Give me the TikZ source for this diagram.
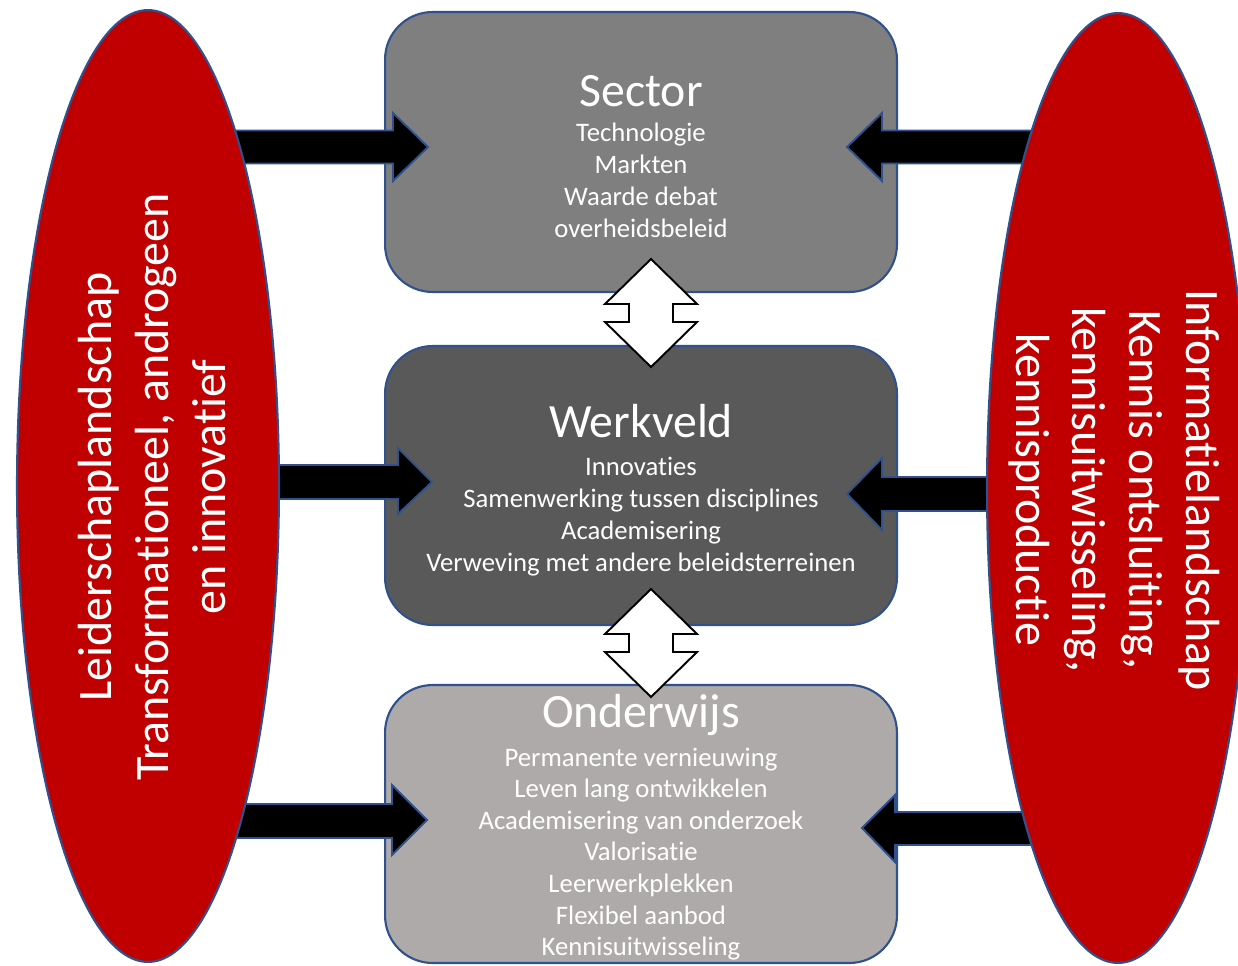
\documentclass[tikz,border=0pt]{standalone}
\usepackage{fontspec}
\setmainfont{Carlito}[Ligatures=NoCommon]
\usetikzlibrary{shapes.geometric}
\definecolor{outl}{HTML}{2F528F}
\definecolor{dred}{HTML}{C00000}
\definecolor{gA}{HTML}{7F7F7F}
\definecolor{gB}{HTML}{595959}
\definecolor{gC}{HTML}{AEAAAA}
\begin{document}
\begin{tikzpicture}[x=0.02cm,y=-0.02cm,
  box/.style={draw=outl,line width=1.2pt,rounded corners=0.95cm,inner sep=0pt,outer sep=0pt,minimum width=10.24cm},
  ell/.style={ellipse,draw=outl,line width=1.2pt,fill=dred,inner sep=0pt,outer sep=0pt},
  titletext/.style={anchor=base,text=white,inner sep=0pt,font=\fontsize{27.2}{32}\selectfont},
  bodytext/.style={anchor=base,text=white,inner sep=0pt,font=\fontsize{15.2}{18}\selectfont},
  elltext/.style={text=white,inner sep=0pt,align=center,font=\fontsize{27.3}{32.3}\selectfont},
  blockarrow/.style={fill=black,draw=outl,line width=1.1pt,line join=miter},
  dblarrow/.style={fill=white,draw=black,line width=1.1pt,line join=miter}]
\useasboundingbox[fill=white] (0,0) rectangle (1238,965);
% boxes
\node[box,fill=gA,minimum height=5.6cm] (sector) at (641,152) {};
\node[box,fill=gB,minimum height=5.58cm] (werkveld) at (641,485.5) {};
\node[box,fill=gC,minimum height=5.56cm] (onderwijs) at (641,824) {};
% double arrows
\foreach \d [count=\k] in {0,330}{
  \draw[dblarrow] (651,259+\d) -- (697,304+\d) -- (673,304+\d) -- (673,322+\d) -- (697,322+\d)
    -- (651,367+\d) -- (605,322+\d) -- (629,322+\d) -- (629,304+\d) -- (605,304+\d) -- cycle;
}
% texts in boxes
\node[titletext] (sectorT) at (641,106) {Sector};
\foreach \t [count=\i] in {Technologie,Markten,Waarde debat,overheidsbeleid}
  \node[bodytext] (sb\i) at (641,{141+32*(\i-1)}) {\t};
\node[titletext] (werkveldT) at (641,437) {Werkveld};
\foreach \t [count=\i] in {Innovaties,Samenwerking tussen disciplines,Academisering,Verweving met andere beleidsterreinen}
  \node[bodytext] (wb\i) at (641,{475+32*(\i-1)}) {\t};
\node[titletext] (onderwijsT) at (641,727) {Onderwijs};
\foreach \t [count=\i] in {Permanente vernieuwing,Leven lang ontwikkelen,Academisering van onderzoek,Valorisatie,Leerwerkplekken,Flexibel aanbod,Kennisuitwisseling}
  \node[bodytext] (ob\i) at (641,{766+31.6*(\i-1)}) {\t};
% block arrows left
\draw[blockarrow] (225,130.5) -- (393,130.5) -- (393,113) -- (428,147) -- (393,181) -- (393,163.5) -- (225,163.5) -- cycle;
\draw[blockarrow] (260,465) -- (398,465) -- (398,448) -- (432,482) -- (398,514) -- (398,499) -- (260,499) -- cycle;
\draw[blockarrow] (225,804) -- (392,804) -- (392,785) -- (427,820) -- (392,855) -- (392,838) -- (225,838) -- cycle;
% block arrows right
\draw[blockarrow] (1045,130.5) -- (882,130.5) -- (882,113) -- (847,147) -- (882,181) -- (882,163.5) -- (1045,163.5) -- cycle;
\draw[blockarrow] (1010,477) -- (882,477) -- (882,458) -- (847,494) -- (882,530) -- (882,511) -- (1010,511) -- cycle;
\draw[blockarrow] (1045,812) -- (895,812) -- (895,795) -- (862,828) -- (895,862) -- (895,845) -- (1045,845) -- cycle;
% ellipses
\node[ell,minimum width=5.24cm,minimum height=19.04cm] (lead) at (148,486) {};
\node[ell,minimum width=5.24cm,minimum height=19.0cm] (info) at (1118,488) {};
\node[elltext,rotate=90] (leadT) at (152,487) {Leiderschaplandschap\\Transformationeel, androgeen\\en innovatief};
\node[elltext,rotate=-90] (infoT) at (1114,490) {Informatielandschap\\Kennis ontsluiting,\\kennisuitwisseling,\\kennisproductie};
\end{tikzpicture}
\end{document}
